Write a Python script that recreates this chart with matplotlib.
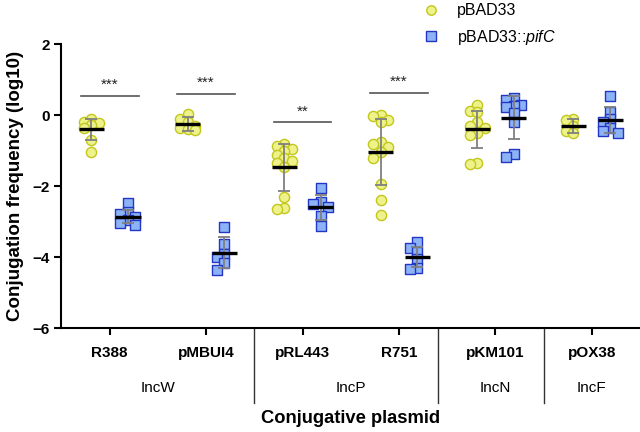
import numpy as np
import matplotlib
matplotlib.use('Agg')
import matplotlib.pyplot as plt
from matplotlib.lines import Line2D
import matplotlib.transforms as mtransforms

plt.rcParams['font.family'] = ['Liberation Sans', 'DejaVu Sans']
plt.rcParams['mathtext.fontset'] = 'custom'
plt.rcParams['mathtext.rm'] = 'Liberation Sans'
plt.rcParams['mathtext.it'] = 'Liberation Sans:italic'

# plasmids and groups
plasmids = ['R388', 'pMBUI4', 'pRL443', 'R751', 'pKM101', 'pOX38']
groups = ['IncW', 'IncP', 'IncN', 'IncF']
group_span = [(0, 1), (2, 3), (4, 4), (5, 5)]
separators = [1.5, 3.4, 4.5]

# conjugation frequency (log10)
ctrl_vals = [
    [-0.12, -0.18, -0.22, -0.28, -0.35, -0.70, -1.05],
    [0.02, -0.12, -0.18, -0.30, -0.35, -0.40, -0.42],
    [-0.82, -0.88, -0.95, -1.0, -1.12, -1.2, -1.28, -1.35, -1.45, -2.30, -2.62, -2.65],
    [0.0, -0.02, -0.15, -0.2, -0.75, -0.8, -0.9, -1.05, -1.2, -1.95, -2.4, -2.82],
    [0.28, 0.12, 0.08, -0.2, -0.3, -0.35, -0.5, -0.55, -1.35, -1.38],
    [-0.1, -0.15, -0.3, -0.45, -0.5],
]
pifc_vals = [
    [-2.48, -2.72, -2.80, -2.88, -2.95, -3.05, -3.10],
    [-3.15, -3.62, -3.90, -3.99, -4.18, -4.37],
    [-2.05, -2.45, -2.5, -2.58, -2.85, -3.12],
    [-3.57, -3.75, -3.85, -4.05, -4.30, -4.35],
    [0.48, 0.42, 0.3, 0.25, 0.22, 0.05, -0.2, -1.1, -1.18],
    [0.55, 0.08, -0.12, -0.2, -0.35, -0.45, -0.5],
]

# mean and SD shown in the figure
ctrl_mean = [-0.40, -0.25, -1.47, -1.05, -0.40, -0.30]
ctrl_sd = [0.29, 0.19, 0.67, 0.93, 0.53, 0.20]
pifc_mean = [-2.86, -3.88, -2.60, -3.99, -0.07, -0.14]
pifc_sd = [0.18, 0.44, 0.36, 0.28, 0.60, 0.37]

# significance
sig_idx = [0, 1, 2, 3]
sig_y = [0.55, 0.60, -0.20, 0.63]
sig_txt = ['***', '***', '**', '***']

yellow_face, yellow_edge = '#eef28a', '#c3c71c'
blue_face, blue_edge = '#8db3f7', '#2336c4'

fig = plt.figure(figsize=(6.4, 4.32), dpi=100)
ax = fig.add_axes([0.096, 0.2407, 0.904, 0.657])
ax.set_xlim(-0.5, 5.5)
ax.set_ylim(-6, 2)

# pixel per data unit, for the dot layout
fig.canvas.draw()
p0 = ax.transData.transform((0, 0))
p1 = ax.transData.transform((1, 1))
sx, sy = p1[0] - p0[0], p1[1] - p0[1]


def swarm(vals, center, step_px=7.5, dist_px=7.0):
    order = np.argsort(vals)[::-1]
    placed = []
    xs = np.zeros(len(vals))
    for i in order:
        y = vals[i] * sy
        best, best_d = 0.0, -1
        for k in [0, -1, 1]:
            x = k * step_px
            d = min([np.hypot(x - px, y - py) for px, py in placed] + [99])
            if d >= dist_px:
                best = x
                break
            if d > best_d:
                best, best_d = x, d
        placed.append((best, y))
        xs[i] = center + best / sx
    return xs


off = 0.19
half = 0.13
for i in range(len(plasmids)):
    for vals, m, s, dx, mk, fc, ec in [
        (ctrl_vals[i], ctrl_mean[i], ctrl_sd[i], -off, 'o', yellow_face, yellow_edge),
        (pifc_vals[i], pifc_mean[i], pifc_sd[i], off, 's', blue_face, blue_edge),
    ]:
        xc = i + dx
        xs = swarm(np.array(vals), xc)
        ax.scatter(xs, vals, s=54, marker=mk, facecolor=fc, edgecolor=ec,
                   linewidth=1.0, zorder=2)
        ax.errorbar(xc, m, yerr=s, fmt='none', ecolor='#808080', elinewidth=1.3,
                    capsize=4, capthick=1.3, zorder=3)
        ax.hlines(m, xc - half, xc + half, color='black', lw=2.4, zorder=4)

for i, y, t in zip(sig_idx, sig_y, sig_txt):
    ax.plot([i - 0.3, i + 0.3], [y, y], color='#555555', lw=1.2)
    ax.text(i, y + 0.3, t, ha='center', va='center', fontsize=11, color='#222222')

ax.spines['top'].set_visible(False)
ax.spines['right'].set_visible(False)
ax.spines['left'].set_linewidth(1.5)
ax.spines['bottom'].set_linewidth(1.5)
ax.set_yticks([-6, -4, -2, 0, 2])
ax.set_xticks(range(len(plasmids)))
ax.set_xticklabels(plasmids, fontweight='bold', fontsize=11)
ax.tick_params(axis='x', length=5, width=1.5, pad=8)
ax.tick_params(axis='y', length=5, width=1.5, labelsize=11)
for lab in ax.get_yticklabels():
    lab.set_fontweight('bold')

trans = mtransforms.blended_transform_factory(ax.transData, ax.transAxes)
for x in separators:
    ax.plot([x, x], [0, -0.265], transform=trans, clip_on=False, color='#333333', lw=1)
for g, (a, b) in zip(groups, group_span):
    ax.text((a + b) / 2, -0.212, g, transform=trans, ha='center', va='center', fontsize=11)

ax.text(0.5, -0.318, 'Conjugative plasmid', transform=ax.transAxes, ha='center',
        va='center', fontsize=13.2, fontweight='bold')
ax.set_ylabel('Conjugation frequency (log10)', fontsize=13.5, fontweight='bold', labelpad=6)

handles = [
    Line2D([], [], ls='none', marker='o', ms=6.8, mfc=yellow_face, mec=yellow_edge, mew=1.0),
    Line2D([], [], ls='none', marker='s', ms=6.8, mfc=blue_face, mec=blue_edge, mew=1.0),
]
fig.legend(handles, ['pBAD33', r'pBAD33::$\it{pifC}$'], loc='upper left',
           bbox_to_anchor=(0.626, 1.026), frameon=False, fontsize=11.5,
           handletextpad=0.6, labelspacing=0.6)

fig.savefig('out.png', dpi=100)
